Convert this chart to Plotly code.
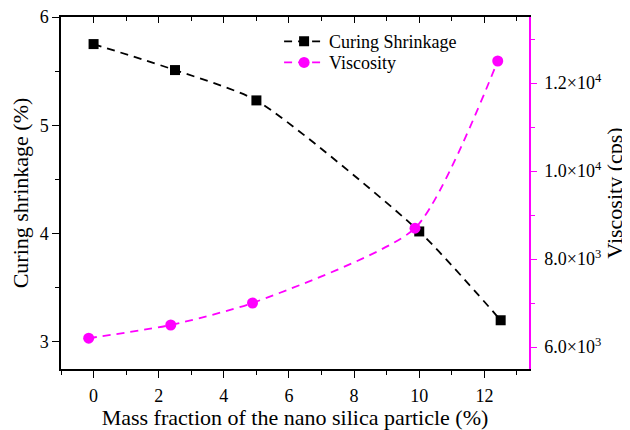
import plotly.graph_objects as go

# Data
shrink_x = [0, 2.5, 5, 10, 12.5]
shrink_y = [5.75, 5.51, 5.23, 4.02, 3.20]
visc_x = [-0.15, 2.37, 4.88, 9.87, 12.41]
visc_y = [6200, 6500, 7000, 8700, 12500]
left_ticks = [3, 4, 5, 6]
x_ticks = [0, 2, 4, 6, 8, 10, 12]
right_tickvals = [6000, 8000, 10000, 12000]
right_ticktext = ["6.0×10<sup>3</sup>", "8.0×10<sup>3</sup>", "1.0×10<sup>4</sup>", "1.2×10<sup>4</sup>"]

FONT = "Liberation Serif"
MAG = "#ff00ff"
XR = [-1, 13.37]

fig = go.Figure()
fig.add_trace(go.Scatter(
    x=shrink_x, y=shrink_y, mode="lines+markers", name="Curing Shrinkage",
    line=dict(color="black", width=1.8, dash="8px,6px", shape="spline", smoothing=0.6),
    marker=dict(symbol="square", size=10, color="black"), legend="legend",
))
fig.add_trace(go.Scatter(
    x=visc_x, y=visc_y, mode="lines+markers", name="Viscosity", yaxis="y2",
    line=dict(color=MAG, width=1.8, dash="8px,6px", shape="spline", smoothing=0.6),
    marker=dict(symbol="circle", size=11, color=MAG), legend="legend2",
))
# invisible trace to activate top mirror axis
fig.add_trace(go.Scatter(x=[0], y=[4], xaxis="x2", mode="markers",
                         marker=dict(opacity=0), showlegend=False, hoverinfo="skip"))

leg_common = dict(xanchor="left", yanchor="middle", bgcolor="rgba(0,0,0,0)",
                  font=dict(size=18), itemwidth=40)

# page body has an 8px margin, so the figure is sized/offset to compensate
fig.update_layout(
    width=622, height=422,
    margin=dict(l=53, r=101, t=9, b=61),
    paper_bgcolor="white", plot_bgcolor="white",
    font=dict(family=FONT, size=18, color="black"),
    showlegend=True,
    legend=dict(x=0.466, y=0.93, **leg_common),
    legend2=dict(x=0.466, y=0.87, **leg_common),
    xaxis=dict(range=XR, tickvals=x_ticks, showgrid=False, zeroline=False, automargin=False,
               showline=True, linecolor="black", linewidth=1.5,
               ticks="outside", ticklen=7, tickwidth=1.2, tickcolor="black",
               ticklabelstandoff=3, ticklabeloverflow="allow",
               minor=dict(dtick=1, tick0=0, ticks="outside", ticklen=4, tickcolor="black", tickwidth=1.2),
               title=dict(text="Mass fraction of the nano silica particle (%)", standoff=6),
               tickfont=dict(size=18)),
    xaxis2=dict(range=XR, overlaying="x", side="top", anchor="y", showgrid=False, automargin=False,
                zeroline=False, showline=True, linecolor="black", linewidth=1.5,
                tickvals=x_ticks, ticks="inside", ticklen=6, tickwidth=1.2, tickcolor="black",
                showticklabels=False,
                minor=dict(dtick=1, tick0=0, ticks="inside", ticklen=4, tickcolor="black", tickwidth=1.2)),
    yaxis=dict(range=[2.75, 6], tickvals=left_ticks, showgrid=False, zeroline=False, automargin=False,
               showline=True, linecolor="black", linewidth=1.5,
               ticks="outside", ticklen=7, tickwidth=1.2, tickcolor="black",
               ticklabeloverflow="allow",
               minor=dict(dtick=0.5, tick0=0, ticks="outside", ticklen=4, tickcolor="black", tickwidth=1.2),
               title=dict(text="Curing shrinkage (%)", standoff=16),
               tickfont=dict(size=18)),
    yaxis2=dict(range=[5500, 13500], overlaying="y", side="right", anchor="x", automargin=False,
                tickvals=right_tickvals, ticktext=right_ticktext,
                showgrid=False, zeroline=False, showline=True, linecolor=MAG, linewidth=1.5,
                ticks="outside", ticklen=6, tickwidth=1.2, tickcolor=MAG,
                ticklabelstandoff=4, ticklabeloverflow="allow",
                minor=dict(dtick=1000, tick0=0, ticks="outside", ticklen=4, tickcolor=MAG, tickwidth=1.2),
                title=dict(text="Viscosity (cps)", standoff=1),
                tickfont=dict(size=18)),
)

fig.write_html("out.html")
